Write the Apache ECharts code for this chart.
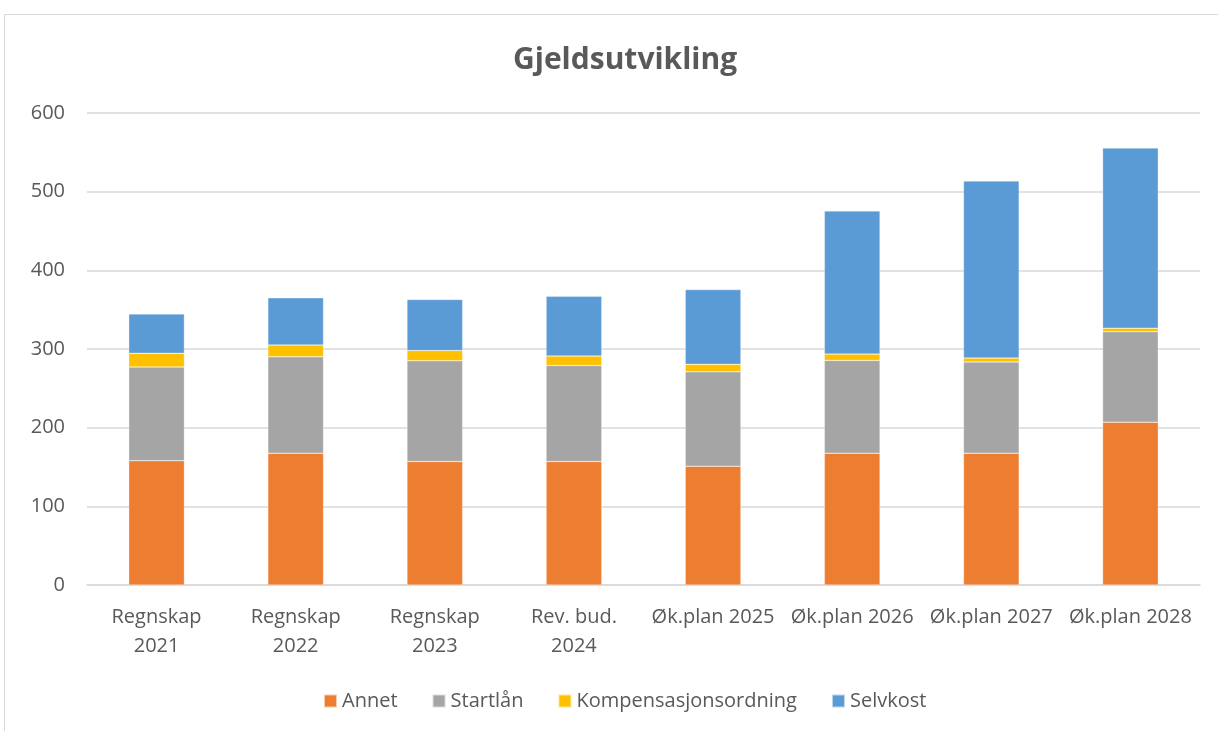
<!DOCTYPE html>
<html>
<head>
<meta charset="utf-8">
<script src="https://cdn.jsdelivr.net/npm/echarts@6/dist/echarts.min.js"></script>
<style>
  html, body { margin: 0; padding: 0; background: #fff; }
  #chart { width: 1218px; height: 731px; }
</style>
</head>
<body>
<div id="chart"></div>
<script>
const categories = ['Regnskap 2021', 'Regnskap 2022', 'Regnskap 2023', 'Rev. bud. 2024',
    'Øk.plan 2025', 'Øk.plan 2026', 'Øk.plan 2027', 'Øk.plan 2028'];
const annet = [158, 167.5, 157, 157, 151, 167.5, 167.5, 207];
const startlan = [119, 122.5, 128, 122, 120, 118, 116, 115];
const kompensasjon = [17.5, 15, 13, 12, 9.5, 8, 5, 4.5];
const selvkost = [50, 60, 65, 76, 95, 182, 225, 229];
const yTicks = [0, 100, 200, 300, 400, 500, 600];

const textColor = '#595959';
const fontFamily = '"Open Sans", "Noto Sans", sans-serif';

const chart = echarts.init(document.getElementById('chart'));

const makeSeries = (name, data, color) => ({
    name: name,
    type: 'bar',
    stack: 'gjeld',
    data: data,
    barCategoryGap: '60%',
    itemStyle: { color: color, borderColor: 'rgba(255,255,255,0.6)', borderWidth: 0.5 },
    emphasis: { disabled: true }
});

const option = {
    backgroundColor: '#ffffff',
    animation: false,
    textStyle: { fontFamily: fontFamily },
    graphic: [{
        type: 'rect',
        shape: { x: 4.5, y: 14.5, width: 1230, height: 740 },
        style: { fill: 'none', stroke: '#d9d9d9', lineWidth: 1 },
        silent: true
    }],
    title: {
        text: 'Gjeldsutvikling',
        left: 508,
        top: 40,
        textStyle: {
            color: textColor,
            fontSize: 30,
            fontWeight: 'bold',
            fontFamily: fontFamily
        }
    },
    legend: {
        top: 686,
        left: 318,
        itemWidth: 13,
        itemHeight: 13,
        itemGap: 34,
        icon: 'rect',
        textStyle: { color: textColor, fontSize: 20, fontFamily: fontFamily }
    },
    grid: { left: 87, right: 18, top: 113, bottom: 146 },
    xAxis: {
        type: 'category',
        data: categories,
        axisLine: { lineStyle: { color: '#d9d9d9', width: 1.5 } },
        axisTick: { show: false },
        axisLabel: {
            color: textColor,
            fontSize: 20,
            lineHeight: 29,
            margin: 18,
            interval: 0,
            formatter: v => v.startsWith('Øk') ? v : v.replace(/ (\d{4})$/, '\n$1')
        }
    },
    yAxis: {
        type: 'value',
        min: yTicks[0],
        max: yTicks[yTicks.length - 1],
        interval: 100,
        axisLine: { show: false },
        axisTick: { show: false },
        axisLabel: { color: textColor, fontSize: 20, margin: 22 },
        splitLine: { lineStyle: { color: '#d9d9d9', width: 1.5 } }
    },
    series: [
        makeSeries('Annet', annet, '#ED7D31'),
        makeSeries('Startlån', startlan, '#A5A5A5'),
        makeSeries('Kompensasjonsordning', kompensasjon, '#FFC000'),
        makeSeries('Selvkost', selvkost, '#5B9BD5')
    ]
};

chart.setOption(option);
</script>
</body>
</html>
